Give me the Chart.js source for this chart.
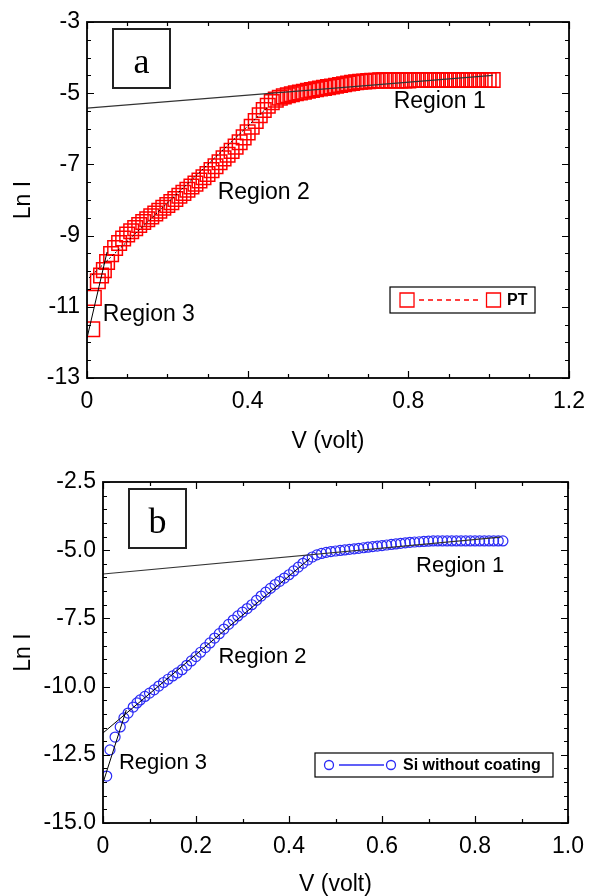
<!DOCTYPE html>
<html>
<head>
<meta charset="utf-8">
<script src="https://cdn.jsdelivr.net/npm/chart.js@4.4.1/dist/chart.umd.min.js"></script>
<style>
body { margin: 0; background: #fff; }
canvas { position: absolute; left: 0; }
#chartA { top: 0; }
#chartB { top: 460px; }
</style>
</head>
<body>
<canvas id="chartA" width="595" height="460"></canvas>
<canvas id="chartB" width="595" height="436"></canvas>
<script>
// panel a : PT
var vA = [0.013, 0.017, 0.027, 0.035, 0.042, 0.05, 0.06, 0.07, 0.08, 0.09,
  0.10, 0.11, 0.12, 0.13, 0.14, 0.15, 0.16, 0.17, 0.18, 0.19,
  0.20, 0.21, 0.22, 0.23, 0.24, 0.25, 0.26, 0.27, 0.28, 0.29,
  0.30, 0.31, 0.32, 0.33, 0.34, 0.35, 0.36, 0.37, 0.38, 0.39,
  0.40, 0.41, 0.42, 0.43, 0.44, 0.45, 0.46, 0.47, 0.48, 0.49,
  0.50, 0.51, 0.52, 0.53, 0.54, 0.55, 0.56, 0.57, 0.58, 0.59,
  0.60, 0.61, 0.62, 0.63, 0.64, 0.65, 0.66, 0.67, 0.68, 0.69,
  0.70, 0.71, 0.72, 0.73, 0.74, 0.75, 0.76, 0.77, 0.78, 0.79,
  0.80, 0.81, 0.82, 0.83, 0.84, 0.85, 0.86, 0.87, 0.88, 0.89,
  0.90, 0.91, 0.92, 0.93, 0.94, 0.95, 0.96, 0.97, 0.98, 0.99,
  1.00, 1.01];
var lnA = [-11.63, -10.75, -10.28, -10.12, -9.97, -9.74, -9.52, -9.35, -9.21, -9.08,
  -8.97, -8.88, -8.79, -8.70, -8.62, -8.54, -8.46, -8.38, -8.30, -8.22,
  -8.14, -8.06, -7.97, -7.88, -7.80, -7.71, -7.62, -7.54, -7.45, -7.36,
  -7.27, -7.16, -7.05, -6.94, -6.83, -6.73, -6.62, -6.50, -6.38, -6.24,
  -6.10, -5.94, -5.78, -5.62, -5.47, -5.35, -5.25, -5.18, -5.13, -5.09,
  -5.06, -5.03, -5.00, -4.98, -4.96, -4.93, -4.91, -4.89, -4.87, -4.85,
  -4.83, -4.81, -4.79, -4.77, -4.75, -4.73, -4.71, -4.69, -4.68, -4.67,
  -4.66, -4.65, -4.65, -4.64, -4.64, -4.64, -4.64, -4.64, -4.64, -4.64,
  -4.64, -4.63, -4.63, -4.63, -4.63, -4.63, -4.63, -4.63, -4.63, -4.63,
  -4.63, -4.63, -4.63, -4.63, -4.63, -4.63, -4.63, -4.63, -4.63, -4.63,
  -4.63, -4.63];
var fitA1 = [[0, -5.42], [1.01, -4.50]];
var fitA2 = [[0.005, -10.19], [0.45, -5.39]];
var fitA3 = [[0, -11.88], [0.05, -9.46]];
var xTicksA = [0, 0.4, 0.8, 1.2];
var yTicksA = [-13, -11, -9, -7, -5, -3];

// panel b : Si without coating
var vB = [0.008, 0.015, 0.026, 0.037, 0.045, 0.054, 0.065, 0.073, 0.08, 0.09,
  0.10, 0.11, 0.12, 0.13, 0.14, 0.15, 0.16, 0.17, 0.18, 0.19,
  0.20, 0.21, 0.22, 0.23, 0.24, 0.25, 0.26, 0.27, 0.28, 0.29,
  0.30, 0.31, 0.32, 0.33, 0.34, 0.35, 0.36, 0.37, 0.38, 0.39,
  0.40, 0.41, 0.42, 0.43, 0.44, 0.45, 0.46, 0.47, 0.48, 0.49,
  0.50, 0.51, 0.52, 0.53, 0.54, 0.55, 0.56, 0.57, 0.58, 0.59,
  0.60, 0.61, 0.62, 0.63, 0.64, 0.65, 0.66, 0.67, 0.68, 0.69,
  0.70, 0.71, 0.72, 0.73, 0.74, 0.75, 0.76, 0.77, 0.78, 0.79,
  0.80, 0.81, 0.82, 0.83, 0.84, 0.85, 0.86];
var lnB = [-13.28, -12.32, -11.85, -11.48, -11.15, -10.97, -10.75, -10.60, -10.49, -10.36,
  -10.24, -10.12, -9.98, -9.85, -9.73, -9.61, -9.50, -9.38, -9.22, -9.06,
  -8.90, -8.74, -8.57, -8.40, -8.22, -8.06, -7.89, -7.72, -7.56, -7.41,
  -7.27, -7.14, -7.00, -6.84, -6.68, -6.54, -6.40, -6.26, -6.14, -6.02,
  -5.90, -5.76, -5.62, -5.48, -5.36, -5.25, -5.17, -5.12, -5.08, -5.05,
  -5.03, -5.01, -4.99, -4.97, -4.95, -4.93, -4.91, -4.89, -4.87, -4.85,
  -4.83, -4.81, -4.79, -4.77, -4.75, -4.73, -4.71, -4.70, -4.69, -4.68,
  -4.67, -4.66, -4.66, -4.66, -4.66, -4.66, -4.66, -4.66, -4.66, -4.66,
  -4.66, -4.66, -4.66, -4.66, -4.66, -4.66, -4.66];
var fitB1 = [[0, -5.87], [0.855, -4.52]];
var fitB2 = [[0, -11.70], [0.445, -5.30]];
var fitB3 = [[0, -13.53], [0.05, -10.86]];
var xTicksB = [0, 0.2, 0.4, 0.6, 0.8, 1.0];
var yTicksB = [-15, -12.5, -10, -7.5, -5, -2.5];

var FONT = '"Liberation Sans", Arial, sans-serif';

function pts(xs, ys) {
    return xs.map(function (v, i) { return { x: v, y: ys[i] }; });
}
function seg(p) {
    return p.map(function (q) { return { x: q[0], y: q[1] }; });
}

// box frame + inward ticks on all four sides
var framePlugin = {
    id: 'frame',
    afterDraw: function (chart, args, o) {
        var ctx = chart.ctx, a = chart.chartArea, x = chart.scales.x, y = chart.scales.y;
        ctx.save();
        ctx.strokeStyle = '#000';
        ctx.lineWidth = 1.2;
        ctx.beginPath();
        var nx = Math.round((x.max - x.min) / o.xMinor);
        for (var i = 0; i <= nx; i++) {
            var px = Math.round(x.getPixelForValue(x.min + i * o.xMinor)) + 0.5;
            var len = i % o.xEvery === 0 ? 7 : 4;
            ctx.moveTo(px, a.bottom); ctx.lineTo(px, a.bottom - len);
            ctx.moveTo(px, a.top); ctx.lineTo(px, a.top + len);
        }
        var ny = Math.round((y.max - y.min) / o.yMinor);
        for (var j = 0; j <= ny; j++) {
            var py = Math.round(y.getPixelForValue(y.min + j * o.yMinor)) + 0.5;
            var l2 = j % o.yEvery === 0 ? 7 : 4;
            ctx.moveTo(a.left, py); ctx.lineTo(a.left + l2, py);
            ctx.moveTo(a.right, py); ctx.lineTo(a.right - l2, py);
        }
        ctx.stroke();
        ctx.lineWidth = 1.8;
        ctx.strokeRect(a.left, a.top, a.right - a.left, a.bottom - a.top);
        ctx.restore();
    }
};

// panel letter, region notes and the boxed legend
var notesPlugin = {
    id: 'notes',
    afterDraw: function (chart, args, o) {
        var ctx = chart.ctx, a = chart.chartArea, x = chart.scales.x, y = chart.scales.y;
        ctx.save();
        ctx.fillStyle = '#000';
        ctx.font = o.noteSize + 'px ' + FONT;
        ctx.textAlign = 'center';
        ctx.textBaseline = 'middle';
        o.notes.forEach(function (n) {
            ctx.fillText(n[0], x.getPixelForValue(n[1]), y.getPixelForValue(n[2]));
        });

        // letter box
        var bx = a.left + 26, by = a.top + 7;
        ctx.lineWidth = 2;
        ctx.strokeStyle = '#222';
        ctx.strokeRect(bx, by, 57, 59);
        ctx.font = '36px "Liberation Serif", "Times New Roman", serif';
        ctx.textBaseline = 'alphabetic';
        ctx.fillText(o.letter, bx + 28.5, by + 44);

        // legend
        var lg = o.legend;
        var lx = a.right - lg.right - lg.w, ly = a.bottom - lg.bottom - lg.h, cy = ly + lg.h / 2;
        ctx.lineWidth = 1.2;
        ctx.strokeStyle = '#000';
        ctx.strokeRect(lx, ly, lg.w, lg.h);
        ctx.strokeStyle = lg.color;
        ctx.lineWidth = 1.3;
        ctx.setLineDash(lg.dash);
        ctx.beginPath();
        ctx.moveTo(lx + lg.line[0], cy);
        ctx.lineTo(lx + lg.line[1], cy);
        ctx.stroke();
        ctx.setLineDash([]);
        [lg.m1, lg.m2].forEach(function (mx) {
            ctx.beginPath();
            if (lg.shape === 'rect') {
                ctx.rect(lx + mx - 7, cy - 7, 14, 14);
            } else {
                ctx.arc(lx + mx, cy, 4.5, 0, Math.PI * 2);
            }
            ctx.stroke();
        });
        ctx.fillStyle = '#000';
        ctx.font = 'bold 16px ' + FONT;
        ctx.textAlign = 'left';
        ctx.textBaseline = 'middle';
        ctx.fillText(lg.text, lx + lg.tx, cy + 1);
        ctx.restore();
    }
};

function buildChart(id, s) {
    var ctx = document.getElementById(id).getContext('2d');
    return new Chart(ctx, {
        type: 'scatter',
        data: {
            datasets: [
                { data: seg(s.fits[0]), showLine: true, borderColor: '#333', borderWidth: 1.1, pointRadius: 0 },
                { data: seg(s.fits[1]), showLine: true, borderColor: '#000', borderWidth: 1, borderDash: s.dash2, pointRadius: 0 },
                { data: seg(s.fits[2]), showLine: true, borderColor: '#000', borderWidth: 1, pointRadius: 0 },
                {
                    label: s.name,
                    data: pts(s.v, s.ln),
                    showLine: false,
                    pointStyle: s.shape,
                    pointRadius: s.radius,
                    pointBorderWidth: s.markWidth,
                    pointBorderColor: s.color,
                    pointBackgroundColor: 'rgba(0,0,0,0)'
                }
            ]
        },
        options: {
            responsive: false,
            animation: false,
            layout: { padding: { top: 22, right: s.padRight, left: 0, bottom: 0 } },
            plugins: {
                legend: { display: false },
                tooltip: { enabled: false },
                frame: s.frame,
                notes: s.notes
            },
            scales: {
                x: {
                    type: 'linear',
                    min: s.xTicks[0],
                    max: s.xTicks[s.xTicks.length - 1],
                    afterBuildTicks: function (sc) { sc.ticks = s.xTicks.map(function (v) { return { value: v }; }); },
                    afterFit: function (sc) { sc.height = s.xHeight; },
                    grid: { display: false, drawTicks: false },
                    border: { display: false },
                    ticks: {
                        padding: 10, maxRotation: 0, autoSkip: false, color: '#000',
                        font: { family: FONT, size: 23 },
                        callback: function (v) { return v === 0 ? '0' : v.toFixed(1); }
                    },
                    title: {
                        display: true, text: 'V (volt)', color: '#000',
                        font: { family: FONT, size: 23, lineHeight: 1 },
                        padding: { top: 0, bottom: s.titlePad }
                    }
                },
                y: {
                    type: 'linear',
                    min: s.yTicks[0],
                    max: s.yTicks[s.yTicks.length - 1],
                    afterBuildTicks: function (sc) { sc.ticks = s.yTicks.map(function (v) { return { value: v }; }); },
                    afterFit: function (sc) { sc.width = s.yWidth; },
                    grid: { display: false, drawTicks: false },
                    border: { display: false },
                    ticks: {
                        padding: 7, color: '#000',
                        font: { family: FONT, size: 23 },
                        callback: s.yLabel
                    },
                    title: {
                        display: true, text: 'Ln I', color: '#000',
                        font: { family: FONT, size: 23, lineHeight: 1 },
                        padding: { top: 12, bottom: 0 }
                    }
                }
            }
        },
        plugins: [framePlugin, notesPlugin]
    });
}

buildChart('chartA', {
    name: 'PT', v: vA, ln: lnA, fits: [fitA1, fitA2, fitA3], dash2: [2, 2],
    shape: 'rect', radius: 10.3, color: '#ff0000', markWidth: 1.5,
    xTicks: xTicksA, yTicks: yTicksA,
    yLabel: function (v) { return String(v); },
    padRight: 21, xHeight: 82, yWidth: 87, titlePad: 7,
    frame: { xMinor: 0.1, xEvery: 4, yMinor: 0.5, yEvery: 4 },
    notes: {
        noteSize: 23, letter: 'a',
        notes: [['Region 1', 0.878, -5.25], ['Region 2', 0.44, -7.80], ['Region 3', 0.154, -11.23]],
        legend: { right: 34, bottom: 65, w: 145, h: 26, color: '#ff0000', dash: [5, 4], shape: 'rect',
            m1: 17, m2: 103.5, line: [29, 88], tx: 117, text: 'PT' }
    }
});

buildChart('chartB', {
    name: 'Si without coating', v: vB, ln: lnB, fits: [fitB1, fitB2, fitB3], dash2: [],
    shape: 'circle', radius: 5, color: '#2b2bf5', markWidth: 1.2,
    xTicks: xTicksB, yTicks: yTicksB,
    yLabel: function (v) { return v.toFixed(1); },
    padRight: 27, xHeight: 73, yWidth: 103, titlePad: 0,
    frame: { xMinor: 0.1, xEvery: 2, yMinor: 0.5, yEvery: 5 },
    notes: {
        noteSize: 22, letter: 'b',
        notes: [['Region 1', 0.768, -5.56], ['Region 2', 0.343, -8.93], ['Region 3', 0.129, -12.78]],
        legend: { right: 15, bottom: 46, w: 238, h: 24, color: '#2b2bf5', dash: [], shape: 'circle',
            m1: 14, m2: 76, line: [24, 69], tx: 88, text: 'Si without coating' }
    }
});
</script>
</body>
</html>
